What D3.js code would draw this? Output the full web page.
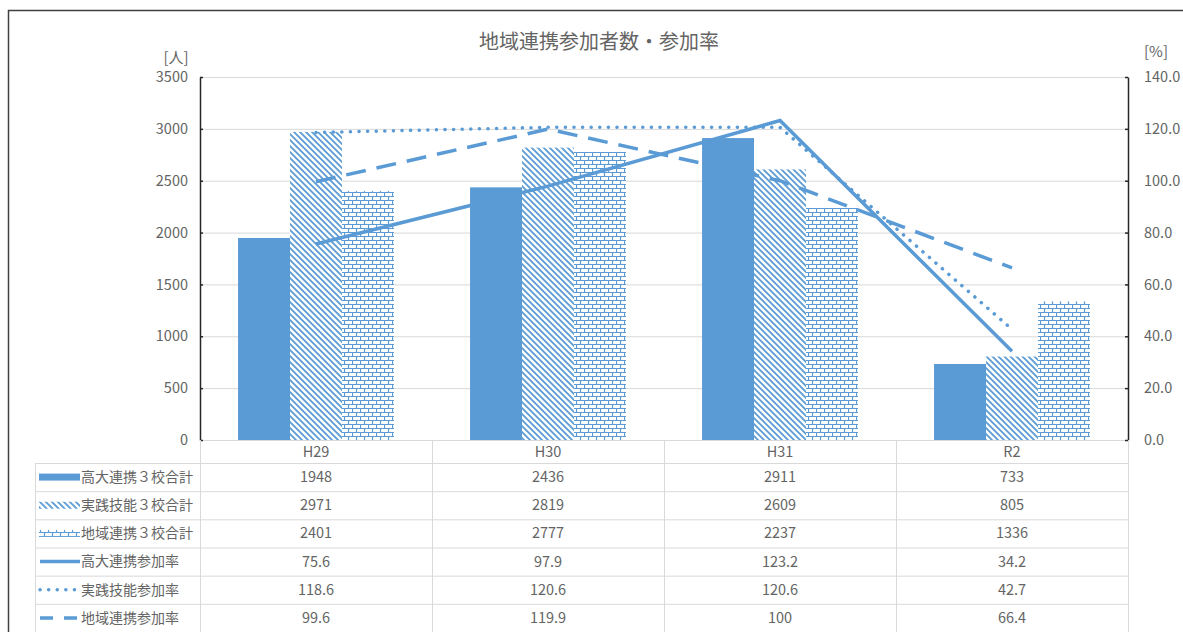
<!DOCTYPE html>
<html>
<head>
<meta charset="utf-8">
<script src="https://cdn.jsdelivr.net/npm/d3@7/dist/d3.min.js"></script>
<style>
  html, body { margin: 0; padding: 0; background: #fff; overflow: hidden; }
  svg { display: block; font-family: "Noto Sans CJK JP", "Noto Sans", sans-serif; }
</style>
</head>
<body>
<svg id="chart" width="1183" height="632"></svg>
<script>
// Fiscal years
const categories = ["H29", "H30", "H31", "R2"];

// Participant counts (people, left axis)
const barSeriesNames = ["高大連携３校合計", "実践技能３校合計", "地域連携３校合計"];
const koudaiCount = [1948, 2436, 2911, 733];
const jissenCount = [2971, 2819, 2609, 805];
const chiikiCount = [2401, 2777, 2237, 1336];

// Participation rates (%, right axis)
const lineSeriesNames = ["高大連携参加率", "実践技能参加率", "地域連携参加率"];
const koudaiRate = [75.6, 97.9, 123.2, 34.2];
const jissenRate = [118.6, 120.6, 120.6, 42.7];
const chiikiRate = [99.6, 119.9, 100, 66.4];

const leftTicks = [0, 500, 1000, 1500, 2000, 2500, 3000, 3500];
const rightTicks = [0, 20, 40, 60, 80, 100, 120, 140];

const BLUE = "#5b9bd5";
const TEXT = "#646464";
const GRID = "#d9d9d9";

const svg = d3.select("#chart");
const defs = svg.append("defs");

// Wide downward diagonal hatch
const hatch = defs.append("pattern")
  .attr("id", "hatch").attr("patternUnits", "userSpaceOnUse")
  .attr("width", 6).attr("height", 6);
hatch.append("rect").attr("width", 6).attr("height", 6).attr("fill", "#fff");
hatch.append("path")
  .attr("d", "M0,0 L6,6 M-3,3 L3,9 M3,-3 L9,3")
  .attr("stroke", BLUE).attr("stroke-width", 1.8);

// Horizontal brick
const brick = defs.append("pattern")
  .attr("id", "brick").attr("patternUnits", "userSpaceOnUse")
  .attr("width", 8).attr("height", 8);
brick.append("rect").attr("width", 8).attr("height", 8).attr("fill", "#fff");
brick.append("path")
  .attr("d", "M0,0.5 H8 M0,4.5 H8 M0.5,0.5 V4.5 M4.5,4.5 V8.5")
  .attr("stroke", BLUE).attr("stroke-width", 1.2).attr("fill", "none");

// Outer frame (top and left edges visible)
svg.append("path")
  .attr("d", "M8.5,700 V10.5 H1300")
  .attr("fill", "none").attr("stroke", "#404040").attr("stroke-width", 1.5);

// Scales
const plotLeft = 200, plotRight = 1128, plotTop = 77, plotBottom = 440;
const x = d3.scaleBand().domain(categories).range([plotLeft, plotRight]);
const bw = x.bandwidth();
const xs = d3.scaleBand().domain(barSeriesNames).range([bw * 0.164, bw * 0.836]);
const y = d3.scaleLinear().domain([0, 3500]).range([plotBottom, plotTop]);
const yR = d3.scaleLinear().domain([0, 140]).range([plotBottom, plotTop]);

// Title and unit labels
svg.append("text").attr("x", 599).attr("y", 49).attr("text-anchor", "middle")
  .attr("font-size", 20).attr("fill", TEXT).text("地域連携参加者数・参加率");
svg.append("text").attr("x", 176).attr("y", 63).attr("text-anchor", "middle")
  .attr("font-size", 15).attr("fill", TEXT).text("[人]");
svg.append("text").attr("x", 1144).attr("y", 57)
  .attr("font-size", 15).attr("fill", TEXT).text("[%]");

// Gridlines
svg.append("g").selectAll("line").data(leftTicks).join("line")
  .attr("x1", plotLeft).attr("x2", plotRight)
  .attr("y1", d => y(d) + 0.5).attr("y2", d => y(d) + 0.5)
  .attr("stroke", GRID).attr("stroke-width", 1);

// Bars
const barData = [koudaiCount, jissenCount, chiikiCount];
const barFills = [BLUE, "url(#hatch)", "url(#brick)"];
barData.forEach((vals, si) => {
  svg.append("g").selectAll("rect").data(vals).join("rect")
    .attr("x", (d, i) => x(categories[i]) + xs(barSeriesNames[si]))
    .attr("y", d => y(d))
    .attr("width", xs.bandwidth())
    .attr("height", d => y(0) - y(d))
    .attr("fill", barFills[si]);
});

// Rate lines
const lineData = [koudaiRate, jissenRate, chiikiRate];
const lineDash = [null, "0.1 8.5", "20 11"];
const lineGen = d3.line()
  .x((d, i) => x(categories[i]) + bw / 2)
  .y(d => yR(d));
lineData.forEach((vals, si) => {
  svg.append("path").datum(vals)
    .attr("d", lineGen)
    .attr("fill", "none").attr("stroke", BLUE)
    .attr("stroke-width", 3.5)
    .attr("stroke-linecap", si === 1 ? "round" : "butt")
    .attr("stroke-dasharray", lineDash[si]);
});

// Axes
const axisL = d3.axisLeft(y).tickValues(leftTicks).tickFormat(d3.format("d"))
  .tickSizeInner(-3).tickSizeOuter(0).tickPadding(12);
const gL = svg.append("g").attr("transform", `translate(${plotLeft},0)`).call(axisL);
const axisR = d3.axisRight(yR).tickValues(rightTicks).tickFormat(d3.format(".1f"))
  .tickSizeInner(-3).tickSizeOuter(0).tickPadding(16);
const gR = svg.append("g").attr("transform", `translate(${plotRight},0)`).call(axisR);
[gL, gR].forEach(g => {
  g.select(".domain").attr("stroke", "#262626").attr("stroke-width", 1.5);
  g.selectAll(".tick line").attr("stroke", "#262626").attr("stroke-width", 1.5);
  g.selectAll(".tick text").attr("fill", TEXT).attr("font-size", 14.5)
    .attr("font-family", "'Noto Sans CJK JP', sans-serif");
});

// Data table
const tableLeft = 35, headerBottom = 463, tableBottom = 632;
const rowNames = barSeriesNames.concat(lineSeriesNames);
const rowValues = barData.concat(lineData);
const rows = d3.scaleBand().domain(rowNames).range([headerBottom, tableBottom]);
const table = svg.append("g");

// horizontal rules
table.selectAll("line.h").data(rowNames).join("line")
  .attr("class", "h")
  .attr("x1", tableLeft).attr("x2", plotRight)
  .attr("y1", d => rows(d) + 0.5).attr("y2", d => rows(d) + 0.5)
  .attr("stroke", GRID);
// vertical rules
const vEdges = categories.map(c => x(c)).concat([plotRight]);
table.selectAll("line.v").data(vEdges).join("line")
  .attr("class", "v")
  .attr("x1", d => d + 0.5).attr("x2", d => d + 0.5)
  .attr("y1", plotBottom).attr("y2", tableBottom)
  .attr("stroke", GRID);
table.append("line")
  .attr("x1", tableLeft + 0.5).attr("x2", tableLeft + 0.5)
  .attr("y1", headerBottom).attr("y2", tableBottom).attr("stroke", GRID);

// header labels
table.selectAll("text.hdr").data(categories).join("text")
  .attr("class", "hdr")
  .attr("x", d => x(d) + bw / 2).attr("y", (plotBottom + headerBottom) / 2)
  .attr("dy", "0.35em").attr("text-anchor", "middle")
  .attr("font-size", 14.5).attr("fill", TEXT).text(d => d);

// cell values
rowNames.forEach((name, ri) => {
  const cy = rows(name) + rows.bandwidth() / 2;
  table.append("g").selectAll("text").data(rowValues[ri]).join("text")
    .attr("x", (d, i) => x(categories[i]) + bw / 2).attr("y", cy)
    .attr("dy", "0.35em").attr("text-anchor", "middle")
    .attr("font-size", 14.5).attr("fill", TEXT).text(d => d);
  // legend key
  const k = table.append("g");
  if (ri < 3) {
    k.append("rect").attr("x", 39).attr("y", cy - 3.5).attr("width", 41).attr("height", 7)
      .attr("fill", barFills[ri]);
  } else {
    k.append("line").attr("x1", 40).attr("x2", 80).attr("y1", cy).attr("y2", cy)
      .attr("stroke", BLUE).attr("stroke-width", 3.5)
      .attr("stroke-linecap", ri === 4 ? "round" : "butt")
      .attr("stroke-dasharray", ri === 4 ? "0.1 8.5" : (ri === 5 ? "13 11" : null));
  }
  table.append("text").attr("x", 81).attr("y", cy).attr("dy", "0.35em")
    .attr("font-size", 14).attr("fill", TEXT).text(name);
});
</script>
</body>
</html>
